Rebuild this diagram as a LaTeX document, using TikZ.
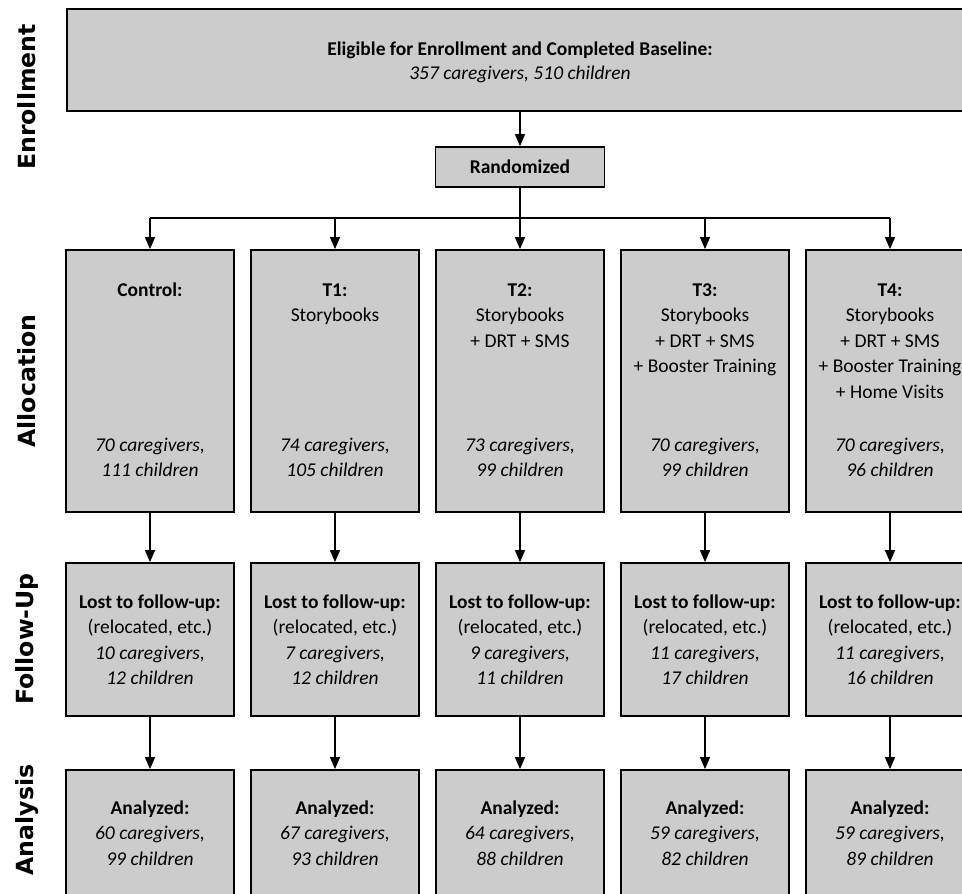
\documentclass[tikz,border=0pt]{standalone}
\usepackage{fontspec}
\setmainfont{Carlito}
\newfontfamily\labfont{DejaVu Sans}
\usetikzlibrary{arrows.meta}
\definecolor{boxgray}{HTML}{CCCCCC}
\newcommand\blk[1]{\begin{tabular}[t]{@{}c@{}}#1\end{tabular}}
\begin{document}
\begin{tikzpicture}[x=1pt,y=-1pt,
  box/.style={draw=black, line width=1.8pt, fill=boxgray, inner sep=0pt},
  txt/.style={font=\fontsize{19.5}{25.5}\selectfont, inner sep=0pt, anchor=base},
  lab/.style={font=\labfont\bfseries\fontsize{23.6}{28}\selectfont, rotate=90, inner sep=0pt},
  arr/.style={line width=1.5pt, -{Triangle[length=12pt,width=10pt]}},
  ln/.style={line width=1.5pt}]
\useasboundingbox (0,0) rectangle (962,894);
\clip (0,0) rectangle (962,894);
\fill[white] (0,0) rectangle (962,894);

% row labels
\node[lab] (lenr) at (27,97) {Enrollment};
\node[lab] (lall) at (27,381) {Allocation};
\node[lab] (lfol) at (27,639) {Follow-Up};
\node[lab] (lana) at (27,820) {Analysis};

% enrollment
\node[box, minimum width=906pt, minimum height=102pt] (enr) at (520,60) {};
\node[txt, font=\fontsize{19.5}{24}\selectfont] (enrt) at (520,56)
  {\blk{\textbf{Eligible for Enrollment and Completed Baseline:}\\\textit{357 caregivers, 510 children}}};
\node[box, minimum width=169pt, minimum height=40pt, font=\fontsize{19.5}{24}\selectfont\bfseries] (rnd) at (520,167) {Randomized};

% columns
\foreach \i/\x in {0/150,1/335,2/520,3/705,4/890}{
  \node[box, minimum width=168pt, minimum height=262pt] (a\i) at (\x,381) {};
  \node[box, minimum width=168pt, minimum height=153pt] (f\i) at (\x,639.5) {};
  \node[box, minimum width=168pt, minimum height=160pt] (n\i) at (\x,850) {};
}

% allocation texts
\node[txt] (a0t) at (150,296) {\blk{\textbf{Control:}}};
\node[txt] (a1t) at (335,296) {\blk{\textbf{T1:}\\Storybooks}};
\node[txt] (a2t) at (520,296) {\blk{\textbf{T2:}\\Storybooks\\+ DRT + SMS}};
\node[txt] (a3t) at (705,296) {\blk{\textbf{T3:}\\Storybooks\\+ DRT + SMS\\+ Booster Training}};
\node[txt] (a4t) at (890,296) {\blk{\textbf{T4:}\\Storybooks\\+ DRT + SMS\\+ Booster Training\\+ Home Visits}};

\node[txt] (a0n) at (150,451) {\blk{\textit{70 caregivers,}\\\textit{111 children}}};
\node[txt] (a1n) at (335,451) {\blk{\textit{74 caregivers,}\\\textit{105 children}}};
\node[txt] (a2n) at (520,451) {\blk{\textit{73 caregivers,}\\\textit{99 children}}};
\node[txt] (a3n) at (705,451) {\blk{\textit{70 caregivers,}\\\textit{99 children}}};
\node[txt] (a4n) at (890,451) {\blk{\textit{70 caregivers,}\\\textit{96 children}}};

% follow-up texts
\node[txt] (f0t) at (150,608) {\blk{\textbf{Lost to follow-up:}\\(relocated, etc.)\\\textit{10 caregivers,}\\\textit{12 children}}};
\node[txt] (f1t) at (335,608) {\blk{\textbf{Lost to follow-up:}\\(relocated, etc.)\\\textit{7 caregivers,}\\\textit{12 children}}};
\node[txt] (f2t) at (520,608) {\blk{\textbf{Lost to follow-up:}\\(relocated, etc.)\\\textit{9 caregivers,}\\\textit{11 children}}};
\node[txt] (f3t) at (705,608) {\blk{\textbf{Lost to follow-up:}\\(relocated, etc.)\\\textit{11 caregivers,}\\\textit{17 children}}};
\node[txt] (f4t) at (890,608) {\blk{\textbf{Lost to follow-up:}\\(relocated, etc.)\\\textit{11 caregivers,}\\\textit{16 children}}};

% analysis texts
\node[txt] (n0t) at (150,814) {\blk{\textbf{Analyzed:}\\\textit{60 caregivers,}\\\textit{99 children}}};
\node[txt] (n1t) at (335,814) {\blk{\textbf{Analyzed:}\\\textit{67 caregivers,}\\\textit{93 children}}};
\node[txt] (n2t) at (520,814) {\blk{\textbf{Analyzed:}\\\textit{64 caregivers,}\\\textit{88 children}}};
\node[txt] (n3t) at (705,814) {\blk{\textbf{Analyzed:}\\\textit{59 caregivers,}\\\textit{82 children}}};
\node[txt] (n4t) at (890,814) {\blk{\textbf{Analyzed:}\\\textit{59 caregivers,}\\\textit{89 children}}};

% connectors
\draw[arr] (enr.south) -- (rnd.north);
\coordinate (split) at (520,218);
\draw[line width=2.4pt] (rnd.south) -- (split);
\draw[ln] (a0.north |- split) -- (a4.north |- split);
\foreach \i in {0,...,4}{
  \draw[arr] (a\i.north |- split) -- (a\i.north);
  \draw[arr] (a\i.south) -- (f\i.north);
  \draw[arr] (f\i.south) -- (n\i.north);
}
\end{tikzpicture}
\end{document}
